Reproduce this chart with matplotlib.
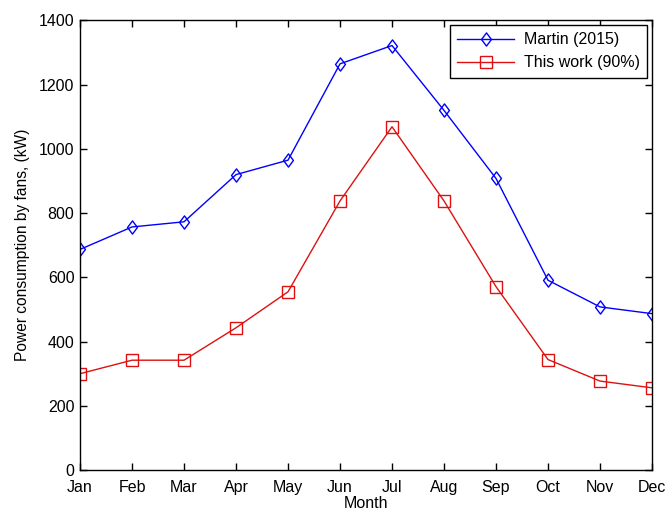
import matplotlib
matplotlib.use("Agg")
import matplotlib.pyplot as plt
from matplotlib.path import Path

months = ["Jan", "Feb", "Mar", "Apr", "May", "Jun", "Jul", "Aug", "Sep", "Oct", "Nov", "Dec"]
martin_2015 = [687, 757, 773, 920, 965, 1265, 1322, 1120, 908, 591, 508, 487]
this_work = [300, 342, 342, 443, 555, 838, 1069, 838, 571, 344, 277, 256]
y_ticks = [0, 200, 400, 600, 800, 1000, 1200, 1400]

plt.rcParams["font.family"] = ["Liberation Sans", "DejaVu Sans"]
plt.rcParams["font.size"] = 11

# open diamond, a bit narrower than tall
diamond = Path([(0, 1), (0.75, 0), (0, -1), (-0.75, 0), (0, 1)],
               [Path.MOVETO, Path.LINETO, Path.LINETO, Path.LINETO, Path.CLOSEPOLY])

fig = plt.figure(figsize=(6.69, 5.12), dpi=100)
ax = fig.add_axes([0.1196, 0.082, 0.855, 0.878])

x = list(range(len(months)))
ax.plot(x, martin_2015, color="#0000ff", lw=1.0, marker=diamond, markersize=9.5,
        markerfacecolor="none", markeredgecolor="#0000ff", markeredgewidth=1.0,
        label="Martin (2015)")
ax.plot(x, this_work, color="#dd1111", lw=1.0, marker="s", markersize=8,
        markerfacecolor="none", markeredgecolor="#dd1111", markeredgewidth=1.0,
        label="This work (90%)")

ax.set_xlim(0, len(months) - 1)
ax.set_ylim(0, 1400)
ax.set_xticks(x)
ax.set_xticklabels(months)
ax.set_yticks(y_ticks)
ax.tick_params(direction="in", length=5, width=1, top=True, right=True,
               labelsize=11.5)
ax.tick_params(axis="x", pad=7)
ax.tick_params(axis="y", pad=4)
for s in ax.spines.values():
    s.set_linewidth(1.0)

ax.set_xlabel("Month", labelpad=1, fontsize=11.5)
ax.set_ylabel("Power consumption by fans, (kW)", labelpad=6, fontsize=11.2)

leg = ax.legend(loc="upper right", fancybox=False, edgecolor="black",
                framealpha=1, borderaxespad=0.3, handlelength=3.6,
                fontsize=11.5, borderpad=0.45, labelspacing=0.5,
                handletextpad=0.6)
leg.get_frame().set_linewidth(1.0)

fig.savefig("out.png", dpi=100)
